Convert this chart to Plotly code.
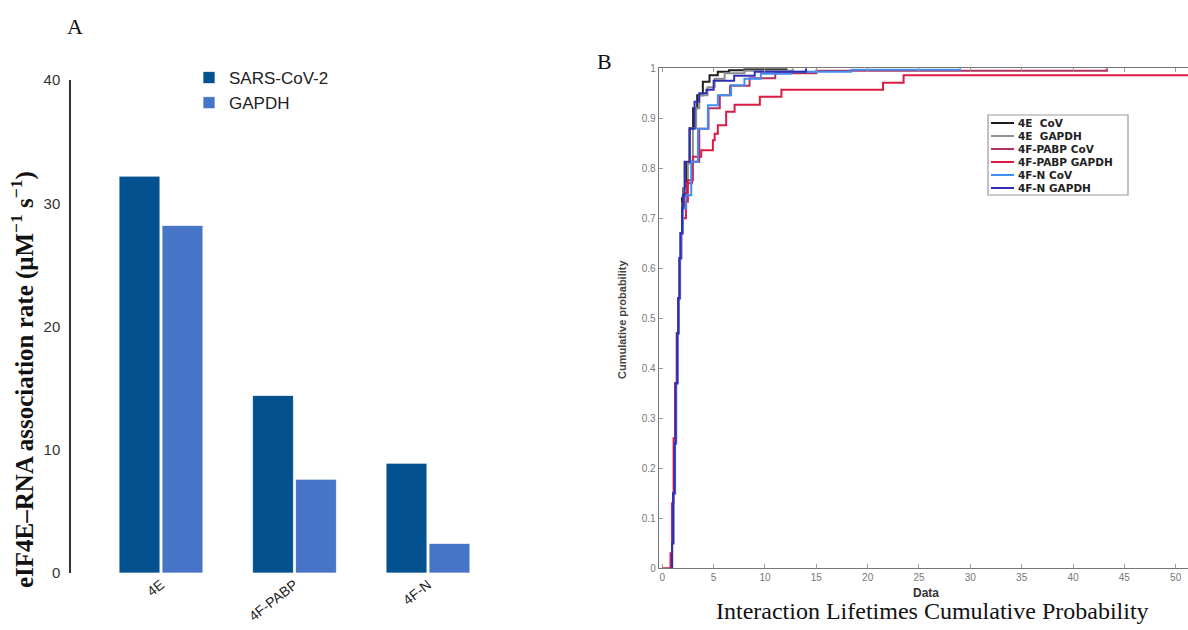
import plotly.graph_objects as go

W, H = 1188, 630

# ---------------- Panel A data ----------------
categories = ["4E", "4F-PABP", "4F-N"]
sars_values = [32.2, 14.4, 8.9]
gapdh_values = [28.2, 7.6, 2.4]
a_yticks = [0, 10, 20, 30, 40]

# ---------------- Panel B data (ECDF step points: x = lifetime, y = cumulative prob) ----------------
e4_cov_x = [0.85, 0.95, 1.05, 1.2, 1.3, 1.45, 1.55, 1.68, 1.78, 1.92, 2.05, 2.33, 2.66, 3.0, 3.4, 3.95, 4.6, 5.4, 6.5, 8.0, 12.1]
e4_cov_y = [0, 0.05, 0.15, 0.25, 0.37, 0.47, 0.54, 0.62, 0.67, 0.74, 0.76, 0.81, 0.88, 0.92, 0.946, 0.973, 0.986, 0.993, 0.996, 0.998, 1.0]

e4_gapdh_x = [0.85, 0.95, 1.05, 1.2, 1.3, 1.45, 1.55, 1.7, 1.8, 1.95, 2.1, 2.49, 2.98, 3.3, 3.6, 4.4, 5.1, 6.07, 8.0, 12.7]
e4_gapdh_y = [0, 0.05, 0.15, 0.25, 0.37, 0.47, 0.54, 0.62, 0.67, 0.73, 0.76, 0.81, 0.88, 0.92, 0.946, 0.962, 0.979, 0.99, 0.995, 1.0]

pabp_cov_x = [0.85, 0.95, 1.08, 1.22, 1.33, 1.48, 1.58, 1.72, 1.82, 1.98, 2.15, 2.4, 2.9, 3.6, 4.5, 5.6, 6.6, 8.5, 11.0, 15.0, 43.3]
pabp_cov_y = [0, 0.05, 0.15, 0.25, 0.37, 0.47, 0.54, 0.62, 0.67, 0.72, 0.75, 0.77, 0.813, 0.879, 0.92, 0.946, 0.965, 0.98, 0.99, 0.995, 1.0]

pabp_gapdh_x = [0.0, 0.8, 0.95, 1.1, 1.25, 1.4, 1.55, 1.7, 1.85, 2.0, 2.3, 2.49, 2.98, 3.79, 4.93, 5.1, 5.41, 6.22, 7.04, 9.5, 11.6, 21.5, 23.5, 52.0]
pabp_gapdh_y = [0, 0.03, 0.13, 0.26, 0.37, 0.47, 0.54, 0.62, 0.67, 0.70, 0.733, 0.776, 0.823, 0.836, 0.856, 0.869, 0.886, 0.913, 0.927, 0.943, 0.957, 0.971, 0.986, 0.986]

n_cov_x = [0.85, 0.95, 1.08, 1.25, 1.36, 1.5, 1.6, 1.74, 1.85, 2.0, 2.33, 2.82, 3.47, 4.44, 5.41, 6.7, 8.0, 9.6, 12.5, 18.4, 29.0]
n_cov_y = [0, 0.05, 0.15, 0.25, 0.37, 0.47, 0.54, 0.62, 0.67, 0.72, 0.746, 0.813, 0.879, 0.926, 0.946, 0.966, 0.979, 0.989, 0.993, 0.997, 1.0]

n_gapdh_x = [0.85, 0.95, 1.05, 1.2, 1.3, 1.45, 1.55, 1.68, 1.78, 1.92, 2.0, 2.17, 2.66, 3.14, 3.6, 4.3, 5.0, 7.0, 9.0, 14.0]
n_gapdh_y = [0, 0.05, 0.15, 0.25, 0.37, 0.47, 0.54, 0.62, 0.67, 0.72, 0.746, 0.813, 0.879, 0.933, 0.95, 0.957, 0.975, 0.985, 0.993, 1.0]

b_xticks = [0, 5, 10, 15, 20, 25, 30, 35, 40, 45, 50]
b_yticks = [0, 0.1, 0.2, 0.3, 0.4, 0.5, 0.6, 0.7, 0.8, 0.9, 1]
b_yticktext = ["0", "0.1", "0.2", "0.3", "0.4", "0.5", "0.6", "0.7", "0.8", "0.9", "1"]

series_names = ["4E  CoV", "4E  GAPDH", "4F-PABP CoV", "4F-PABP GAPDH", "4F-N CoV", "4F-N GAPDH"]
series_x = [e4_cov_x, e4_gapdh_x, pabp_cov_x, pabp_gapdh_x, n_cov_x, n_gapdh_x]
series_y = [e4_cov_y, e4_gapdh_y, pabp_cov_y, pabp_gapdh_y, n_cov_y, n_gapdh_y]
series_colors = ["#1e1e1e", "#8e8e8e", "#b2325f", "#dc1a44", "#3f8ff2", "#2f2fb5"]


def px(x):
    return x / W


def py(y):
    return 1 - y / H


fig = go.Figure()

# Panel A bars
fig.add_trace(go.Bar(x=categories, y=sars_values, name="SARS-CoV-2",
                     marker=dict(color="#03528f", line=dict(color="rgba(255,255,255,0.7)", width=1)),
                     xaxis="x", yaxis="y", legend="legend"))
fig.add_trace(go.Bar(x=categories, y=gapdh_values, name="GAPDH",
                     marker=dict(color="#4674c6", line=dict(color="rgba(255,255,255,0.7)", width=1)),
                     xaxis="x", yaxis="y", legend="legend"))

# Panel B lines
for name, xs, ys, col in zip(series_names, series_x, series_y, series_colors):
    fig.add_trace(go.Scatter(x=xs, y=ys, mode="lines", line=dict(color=col, width=2, shape="hv"),
                             name=name, xaxis="x2", yaxis="y2", showlegend=False))

fig.update_layout(
    width=W, height=H,
    margin=dict(l=0, r=0, t=0, b=0, autoexpand=False),
    paper_bgcolor="white", plot_bgcolor="white",
    barmode="group", bargap=0.356, bargroupgap=0.05,
    font=dict(family="Liberation Sans, Arial, sans-serif", color="#222"),
    xaxis=dict(domain=[px(71), px(540)], range=[-0.674, 2.839], showline=False, showgrid=False,
               zeroline=False, ticks="", tickangle=-38, tickfont=dict(size=14, color="#222"),
               automargin=False, anchor="y"),
    yaxis=dict(domain=[py(573), py(80)], range=[0, 40], showline=True, linecolor="#333", linewidth=1.5,
               showgrid=False, zeroline=False, ticks="", tickvals=a_yticks,
               tickfont=dict(size=15, color="#333"), ticklabelstandoff=6, automargin=False, anchor="x"),
    xaxis2=dict(domain=[px(658.7), 1.0], range=[-0.35, 51.2], showline=True, linecolor="#777",
                linewidth=1, mirror="ticks", ticks="inside", ticklen=4, tickcolor="#999",
                tickvals=b_xticks, showgrid=False, zeroline=False, automargin=False,
                tickfont=dict(size=10, color="#777"), anchor="y2"),
    yaxis2=dict(domain=[py(568.3), py(68.3)], range=[0, 1], showline=True, linecolor="#777",
                linewidth=1, mirror=False, ticks="inside", ticklen=4, tickcolor="#999",
                tickvals=b_yticks, ticktext=b_yticktext, showgrid=False, zeroline=False,
                automargin=False, tickfont=dict(size=10, color="#777"), anchor="x2"),
    legend=dict(x=px(189), y=py(60), xanchor="left", yanchor="top", bgcolor="rgba(0,0,0,0)",
                font=dict(size=17, color="#222"), tracegroupgap=0),
    showlegend=True,
)

# Hand-drawn legend for panel B (box + line samples + labels)
leg_left, leg_top, leg_right, leg_bottom = 988, 115, 1128, 195
row_h = 13.0
shapes = [dict(type="rect", xref="paper", yref="paper", x0=px(leg_left), x1=px(leg_right),
               y0=py(leg_bottom), y1=py(leg_top), line=dict(color="#999", width=1.2),
               fillcolor="white", layer="above")]
annotations = []
for i, (name, col) in enumerate(zip(series_names, series_colors)):
    yc = leg_top + 8 + i * row_h
    shapes.append(dict(type="line", xref="paper", yref="paper", x0=px(991), x1=px(1014),
                       y0=py(yc), y1=py(yc), line=dict(color=col, width=2), layer="above"))
    annotations.append(dict(text="<b>" + name + "</b>", xref="paper", yref="paper", x=px(1016), y=py(yc),
                            xanchor="left", yanchor="middle", showarrow=False,
                            font=dict(family="DejaVu Sans, sans-serif", size=10.5, color="#222")))

annotations += [
    dict(text="A", x=px(75), y=py(27), xref="paper", yref="paper", showarrow=False,
         xanchor="center", yanchor="middle",
         font=dict(family="Liberation Serif, Times New Roman, serif", size=22, color="#111")),
    dict(text="B", x=px(604), y=py(62), xref="paper", yref="paper", showarrow=False,
         xanchor="center", yanchor="middle",
         font=dict(family="Liberation Serif, Times New Roman, serif", size=22, color="#111")),
    dict(text="<b>eIF4E–RNA association rate (μM<sup>−1</sup> s<sup>−1</sup>)</b>",
         x=px(22), y=py(380), xref="paper", yref="paper", showarrow=False, textangle=-90,
         xanchor="center", yanchor="middle",
         font=dict(family="Liberation Serif, Times New Roman, serif", size=25, color="#111")),
    dict(text="<b>Data</b>", x=px(926), y=py(593), xref="paper", yref="paper", showarrow=False,
         xanchor="center", yanchor="middle", font=dict(size=12, color="#333")),
    dict(text="<b>Cumulative probability</b>", x=px(622), y=py(320), xref="paper", yref="paper",
         showarrow=False, textangle=-90, xanchor="center", yanchor="middle",
         font=dict(size=11, color="#444")),
    dict(text="Interaction Lifetimes Cumulative Probability", x=px(932), y=py(611),
         xref="paper", yref="paper", showarrow=False, xanchor="center", yanchor="middle",
         font=dict(family="Liberation Serif, Times New Roman, serif", size=24, color="#111")),
]
fig.update_layout(annotations=annotations, shapes=shapes)

fig.write_html("out.html", config={"displayModeBar": False},
               post_script="document.body.style.margin='0px';document.body.style.padding='0px';")
